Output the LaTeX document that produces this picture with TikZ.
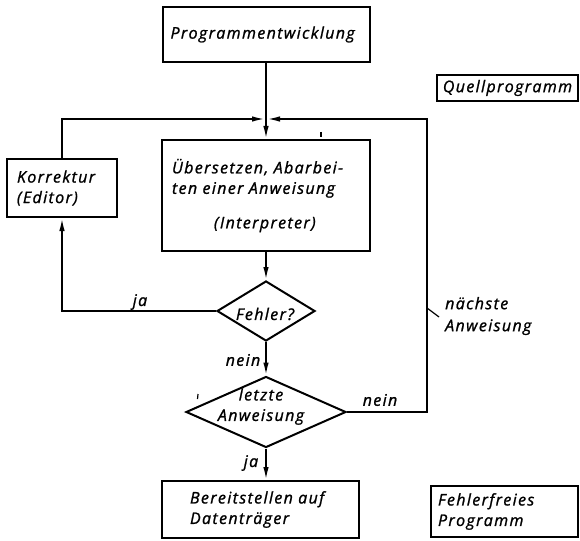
\documentclass[tikz,border=0pt]{standalone}
\usepackage{fontspec}
\setmainfont{Open Sans}[LetterSpace=8.5, FakeBold=1.2]
\usetikzlibrary{shapes.geometric,arrows.meta}

\tikzset{
  lettering/.style={font=\itshape\fontsize{16}{20.5}\selectfont},
  box/.style={draw, line width=2pt, inner sep=0pt, lettering},
  decision/.style={draw, diamond, line width=2pt, inner sep=0pt},
  txt/.style={inner sep=0pt, lettering},
  flow/.style={line width=1.8pt, -{Latex[length=13pt,width=5.5pt]}},
  plain/.style={line width=1.8pt},
  leader/.style={line width=1.2pt},
  speck/.style={line width=1.2pt}
}

\begin{document}
\begin{tikzpicture}[x=1pt, y=-1pt]
  \useasboundingbox (0,0) rectangle (580,540);

  % process boxes
  \node[box, minimum width=207pt, minimum height=55pt, text width=191pt, align=left] (entw) at (266,34.5)
    {Programmentwicklung};
  \node[box, minimum width=208pt, minimum height=111pt, text width=188pt, align=left] (uebers) at (266,195.5)
    {\mbox{Übersetzen, Abarbei-}\\ten einer Anweisung\\[14pt]\hspace*{42pt}(Interpreter)};
  \node[box, minimum width=110pt, minimum height=58pt, text width=90pt, align=left] (korr) at (62,188)
    {Korrektur\\(Editor)};
  \node[box, minimum width=197pt, minimum height=57pt, text width=141pt, align=left] (bereit) at (260.5,509.5)
    {\mbox{Bereitstellen auf}\\Datenträger};

  % result boxes on the right
  \node[box, minimum width=141pt, minimum height=26pt] (quell) at (507.5,88) {Quellprogramm};
  \node[box, minimum width=147pt, minimum height=51pt, text width=133pt, align=left] (frei) at (504.5,511.5)
    {Fehlerfreies\\Programm};

  % decisions
  \node[decision, minimum width=98pt, minimum height=60pt] (fehler) at (266,311) {};
  \node[txt] (fehlertext) at (265,314) {Fehler?};
  \node[decision, minimum width=160pt, minimum height=71pt] (letzte) at (266,412) {};
  \node[txt, align=center] (letztetext) at (261,406.5) {letzte\\Anweisung};

  % loop corners and junction
  \coordinate (J) at (266,119);
  \coordinate (TR) at (427,119);
  \coordinate (leadA) at (427,308);
  \coordinate (leadB) at (439,317);

  % main flow
  \draw[flow] (entw.south) -- (uebers.north);
  \draw[flow] (uebers.south) -- (fehler.north);
  \draw[flow] (fehler.south) -- (letzte.north);
  \draw[flow] (letzte.south) -- (letzte.south |- bereit.north);

  % correction loop
  \draw[flow] (fehler.west) -| (korr.south);
  \draw[flow] (korr.north) |- ([xshift=-1pt]J);

  % next statement loop
  \draw[flow] (letzte.east) -| (TR) -- ([xshift=1pt]J);
  \draw[leader] (leadA) -- (leadB);

  % branch labels
  \node[txt] (ja1) at (140,302) {ja};
  \node[txt] (nein1) at (243,360) {nein};
  \node[txt] (nein2) at (380,400) {nein};
  \node[txt] (ja2) at (251,463) {ja};
  \node[txt, align=left, anchor=west, font=\itshape\fontsize{16}{22}\selectfont] (naechste) at (445,316)
    {nächste\\Anweisung};

  % small specks in the print
  \draw[speck] (321,132) -- (321,137);
  \draw[speck] (198,394) -- (197.5,399);
\end{tikzpicture}
\end{document}
